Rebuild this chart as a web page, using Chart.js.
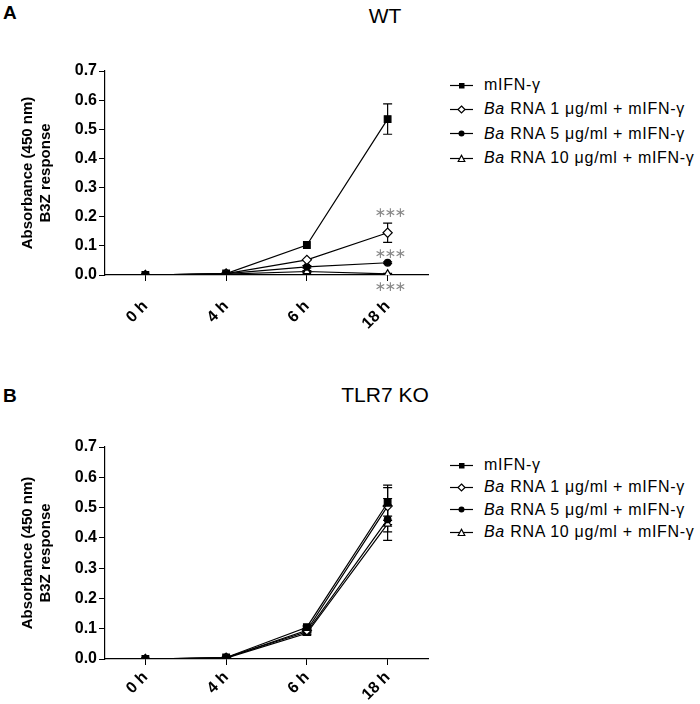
<!DOCTYPE html>
<html>
<head>
<meta charset="utf-8">
<script src="https://cdn.jsdelivr.net/npm/chart.js@4.4.0/dist/chart.umd.min.js"></script>
<style>
  body { margin: 0; background: #fff; font-family: "Liberation Sans", Arial, sans-serif; }
  #page { position: relative; width: 700px; height: 704px; overflow: hidden; }
  .panel { position: absolute; left: 0; width: 440px; height: 352px; }
  .letter { position: absolute; left: 3px; font-weight: bold; font-size: 19px; }
  .title { position: absolute; font-size: 21px; transform: translateX(-50%); white-space: nowrap; }
  .legend { position: absolute; left: 450px; font-size: 16px; letter-spacing: 0.7px; }
  .legend div { display: flex; align-items: center; white-space: nowrap; }
  .legend svg { margin-right: 11px; }
</style>
</head>
<body>
<div id="page">
  <div class="letter" style="top:2px">A</div>
  <div class="title" style="left:385px;top:4px">WT</div>
  <div class="panel" style="top:0"><canvas id="chartA"></canvas></div>
  <div class="legend" id="legendA" style="top:73px"></div>

  <div class="letter" style="top:385px">B</div>
  <div class="title" style="left:385px;top:383px">TLR7 KO</div>
  <div class="panel" style="top:352px"><canvas id="chartB"></canvas></div>
  <div class="legend" id="legendB" style="top:454px"></div>
</div>
<script>
// categories and series
const categories = ["0 h", "4 h", "6 h", "18 h"];
const seriesNames = [
  "mIFN-γ",
  "<i>Ba</i> RNA 1 μg/ml + mIFN-γ",
  "<i>Ba</i> RNA 5 μg/ml + mIFN-γ",
  "<i>Ba</i> RNA 10 μg/ml + mIFN-γ"
];

// WT
const wtControl = [0, 0.005, 0.103, 0.535];
const wtRna1 = [0, 0.005, 0.052, 0.145];
const wtRna5 = [0, 0.005, 0.028, 0.042];
const wtRna10 = [0, 0.003, 0.012, 0.004];
const wtControlErr = [0, 0, 0, 0.052];
const wtRna1Err = [0, 0, 0, 0.033];
const wtRna5Err = [0, 0, 0.004, 0.003];
const wtRna10Err = [0, 0, 0.003, 0.002];
const wtStars = [0.21, 0.071, -0.044];

// TLR7 KO
const koControl = [0, 0.005, 0.105, 0.516];
const koRna1 = [0, 0.004, 0.095, 0.505];
const koRna5 = [0, 0.005, 0.09, 0.461];
const koRna10 = [0, 0.003, 0.085, 0.446];
const koControlErr = [0, 0, 0.004, 0.058];
const koRna1Err = [0, 0, 0.004, 0.061];
const koRna5Err = [0, 0, 0.004, 0.069];
const koRna10Err = [0, 0, 0.004, 0.026];

const markers = [
  { style: "rect", fill: "#000", radius: 4.7 },
  { style: "rectRot", fill: "#fff", radius: 4.6 },
  { style: "circle", fill: "#000", radius: 3.3 },
  { style: "triangle", fill: "#fff", radius: 4.2 }
];

const errorBars = {
  id: "errorBars",
  beforeDatasetsDraw(chart) {
    const ctx = chart.ctx;
    const xs = chart.scales.x, ys = chart.scales.y;
    ctx.save();
    ctx.strokeStyle = "#000";
    ctx.lineWidth = 1.2;
    chart.data.datasets.forEach((ds) => {
      ds.errors.forEach((e, i) => {
        if (!e) return;
        const px = xs.getPixelForValue(i);
        const t = ys.getPixelForValue(ds.data[i] + e);
        const b = ys.getPixelForValue(ds.data[i] - e);
        ctx.beginPath();
        ctx.moveTo(px, t); ctx.lineTo(px, b);
        ctx.moveTo(px - 4.5, t); ctx.lineTo(px + 4.5, t);
        ctx.moveTo(px - 4.5, b); ctx.lineTo(px + 4.5, b);
        ctx.stroke();
      });
    });
    ctx.restore();
  },
  afterDatasetsDraw(chart, args, opts) {
    if (!opts.stars) return;
    const ctx = chart.ctx;
    const px = chart.scales.x.getPixelForValue(3) + 3;
    ctx.save();
    ctx.fillStyle = "#8a8a8a";
    ctx.font = "14px 'DejaVu Sans'";
    ctx.textAlign = "center";
    ctx.textBaseline = "middle";
    opts.stars.forEach((v) => {
      const py = chart.scales.y.getPixelForValue(v);
      [-10, 0, 10].forEach((dx) => ctx.fillText("∗", px + dx, py));
    });
    ctx.restore();
  }
};

function makeDatasets(values, errors) {
  return values.map((v, k) => ({
    label: seriesNames[k],
    data: v,
    errors: errors[k],
    borderColor: "#000",
    borderWidth: 1.2,
    pointStyle: markers[k].style,
    pointRadius: markers[k].radius,
    pointBackgroundColor: markers[k].fill,
    pointBorderColor: "#000",
    pointBorderWidth: 1.2,
    tension: 0
  }));
}

function makeChart(id, values, errors, stars, top, xHeight, xPad) {
  return new Chart(document.getElementById(id), {
    type: "line",
    data: { labels: categories, datasets: makeDatasets(values, errors) },
    plugins: [errorBars],
    options: {
      responsive: true,
      maintainAspectRatio: false,
      animation: false,
      layout: { padding: { top: top, right: 12, bottom: 0, left: 0 } },
      plugins: {
        legend: { display: false },
        tooltip: { enabled: false },
        errorBars: { stars: stars }
      },
      scales: {
        x: {
          offset: true,
          afterFit: (s) => { s.height = xHeight; },
          grid: { offset: false, drawOnChartArea: false, color: "#000", tickLength: 6 },
          border: { color: "#000", width: 1.2 },
          ticks: {
            color: "#000",
            minRotation: 45, maxRotation: 45,
            padding: xPad,
            font: { family: "'Liberation Sans', Arial", size: 16, weight: "bold" }
          }
        },
        y: {
          min: 0, max: 0.7,
          afterFit: (s) => { s.width = 105; },
          grid: { drawOnChartArea: false, color: "#000", tickLength: 6 },
          border: { color: "#000", width: 1.2 },
          ticks: {
            stepSize: 0.1,
            color: "#000",
            padding: 2,
            callback: (v) => v.toFixed(1),
            font: { family: "'Liberation Sans', Arial", size: 16, weight: "bold" }
          },
          title: {
            display: true,
            text: ["Absorbance (450 nm)", "B3Z response"],
            color: "#000",
            padding: { top: 19, bottom: 0 },
            font: { family: "'Liberation Sans', Arial", size: 15, weight: "bold", lineHeight: 1.2 }
          }
        }
      }
    }
  });
}

function symbolSvg(k) {
  const m = markers[k];
  let shape;
  if (m.style === "rect") shape = '<rect x="9" y="4" width="5.5" height="5.5" fill="#000"/>';
  else if (m.style === "rectRot") shape = '<polygon points="11.5,3 15,6.5 11.5,10 8,6.5" fill="#fff" stroke="#000" stroke-width="1.2"/>';
  else if (m.style === "circle") shape = '<circle cx="11.5" cy="6.5" r="3" fill="#000"/>';
  else shape = '<polygon points="11.5,3.2 14.8,9.5 8.2,9.5" fill="#fff" stroke="#000" stroke-width="1.2"/>';
  return '<svg width="23" height="13"><line x1="0" y1="6.5" x2="23" y2="6.5" stroke="#000" stroke-width="1.2"/>' + shape + '</svg>';
}

function makeLegend(id, rowHeight) {
  document.getElementById(id).innerHTML = seriesNames
    .map((n, k) => '<div style="height:' + rowHeight + 'px">' + symbolSvg(k) + "<span>" + n + "</span></div>")
    .join("");
}

makeChart("chartA",
  [wtControl, wtRna1, wtRna5, wtRna10],
  [wtControlErr, wtRna1Err, wtRna5Err, wtRna10Err],
  wtStars, 71, 77, 16);
makeChart("chartB",
  [koControl, koRna1, koRna5, koRna10],
  [koControlErr, koRna1Err, koRna5Err, koRna10Err],
  null, 95, 45, 3);
makeLegend("legendA", 24.3);
makeLegend("legendB", 22.3);
</script>
</body>
</html>
